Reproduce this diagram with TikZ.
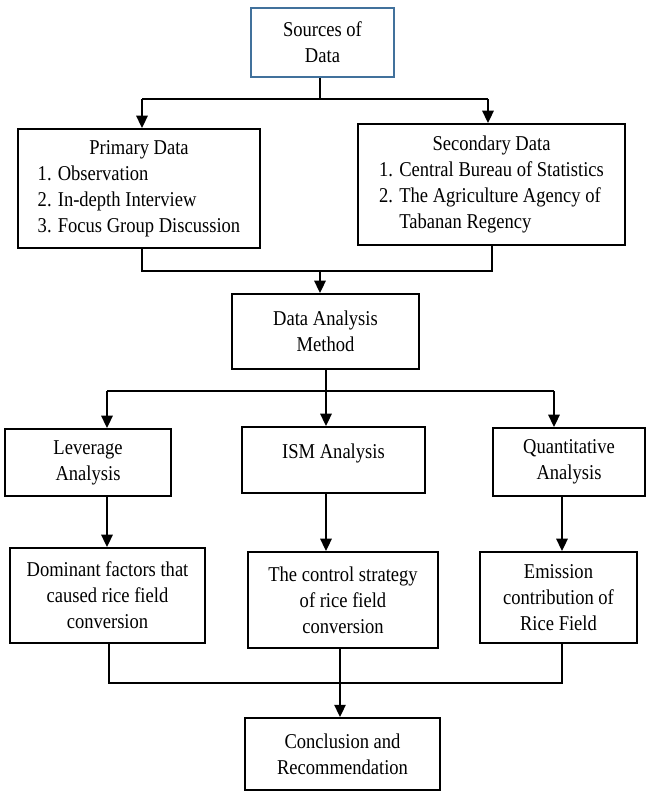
\documentclass[tikz,border=0pt]{standalone}
\usepackage{fontspec}
\setmainfont{Liberation Serif}[FakeStretch=0.88]
\usetikzlibrary{arrows.meta}
\definecolor{srcblue}{RGB}{65,113,156}
\tikzset{
  box/.style={draw, line width=1.1pt, align=center, inner sep=0pt, font=\fontsize{12}{14.8}\selectfont},
  arr/.style={line width=0.9pt, -{Triangle[length=7pt,width=6.5pt]}},
  link/.style={line width=0.6pt}
}

\begin{document}
\begin{tikzpicture}[x=0.02cm, y=-0.02cm]
    \useasboundingbox (0,0) rectangle (649,793);
    \node[box, draw=srcblue, minimum width=2.86cm, minimum height=1.38cm] (src) at (322.5,42.5) {Sources of\\Data};
    \node[box, minimum width=4.84cm, minimum height=2.38cm] (prim) at (139,188.5) {\begin{tabular}{@{}l@{}}\multicolumn{1}{@{}c@{}}{Primary Data}\\1. Observation\\2. In-depth Interview\\3. Focus Group Discussion\end{tabular}};
    \node[box, minimum width=5.34cm, minimum height=2.42cm] (sec) at (491.5,184.5) {\begin{tabular}{@{}l@{}}\multicolumn{1}{@{}c@{}}{Secondary Data}\\1. Central Bureau of Statistics\\2. The Agriculture Agency of\\\phantom{2. }Tabanan Regency\end{tabular}};
    \node[box, minimum width=3.74cm, minimum height=1.5cm] (dam) at (325.5,331.5) {Data Analysis\\Method};
    \node[box, minimum width=3.32cm, minimum height=1.34cm] (lev) at (88,462.5) {Leverage\\Analysis};
    \node[box, minimum width=3.66cm, minimum height=1.32cm, text depth=10pt] (ism) at (333.5,460) {ISM Analysis};
    \node[box, minimum width=3.04cm, minimum height=1.36cm] (quant) at (569,462) {Quantitative\\Analysis};
    \node[box, minimum width=3.9cm, minimum height=1.9cm] (dom) at (107.5,595.5) {Dominant factors that\\caused rice field\\conversion};
    \node[box, minimum width=3.8cm, minimum height=1.92cm] (ctrl) at (343,600) {The control strategy\\of rice field\\conversion};
    \node[box, minimum width=3.14cm, minimum height=1.82cm] (emis) at (558.5,597.5) {Emission\\contribution of\\Rice Field};
    \node[box, minimum width=3.9cm, minimum height=1.44cm] (concl) at (342.5,754) {Conclusion and\\Recommendation};

    \coordinate (s0) at (320,99);
    \coordinate (s1) at (142,99);
    \coordinate (s2) at (488,99);
    \coordinate (m0) at (320,271);
    \coordinate (m1) at (142,271);
    \coordinate (m2) at (492,271);
    \coordinate (a0) at (326,391);
    \coordinate (a1) at (107,391);
    \coordinate (a2) at (554,391);
    \coordinate (c1) at (109,683);
    \coordinate (c2) at (340,683);
    \coordinate (c3) at (562,683);

    \draw[link] (src.south -| s0) -- (s0);
    \draw[link] (s1) -- (s2);
    \draw[arr] (s1) -- (s1 |- prim.north);
    \draw[arr] (s2) -- (s2 |- sec.north);
    \draw[link] (prim.south -| m1) -- (m1) -- (m2) -- (sec.south -| m2);
    \draw[arr] (m0) -- (m0 |- dam.north);
    \draw[link] (dam.south -| a0) -- (a0);
    \draw[link] (a1) -- (a2);
    \draw[arr] (a1) -- (a1 |- lev.north);
    \draw[arr] (a0) -- (a0 |- ism.north);
    \draw[arr] (a2) -- (a2 |- quant.north);
    \draw[arr] (lev.south -| a1) -- (dom.north -| a1);
    \draw[arr] (ism.south -| a0) -- (ctrl.north -| a0);
    \draw[arr] (quant.south -| c3) -- (emis.north -| c3);
    \draw[link] (dom.south -| c1) -- (c1) -- (c3) -- (emis.south -| c3);
    \draw[arr] (ctrl.south -| c2) -- (c2 |- concl.north);
\end{tikzpicture}
\end{document}
